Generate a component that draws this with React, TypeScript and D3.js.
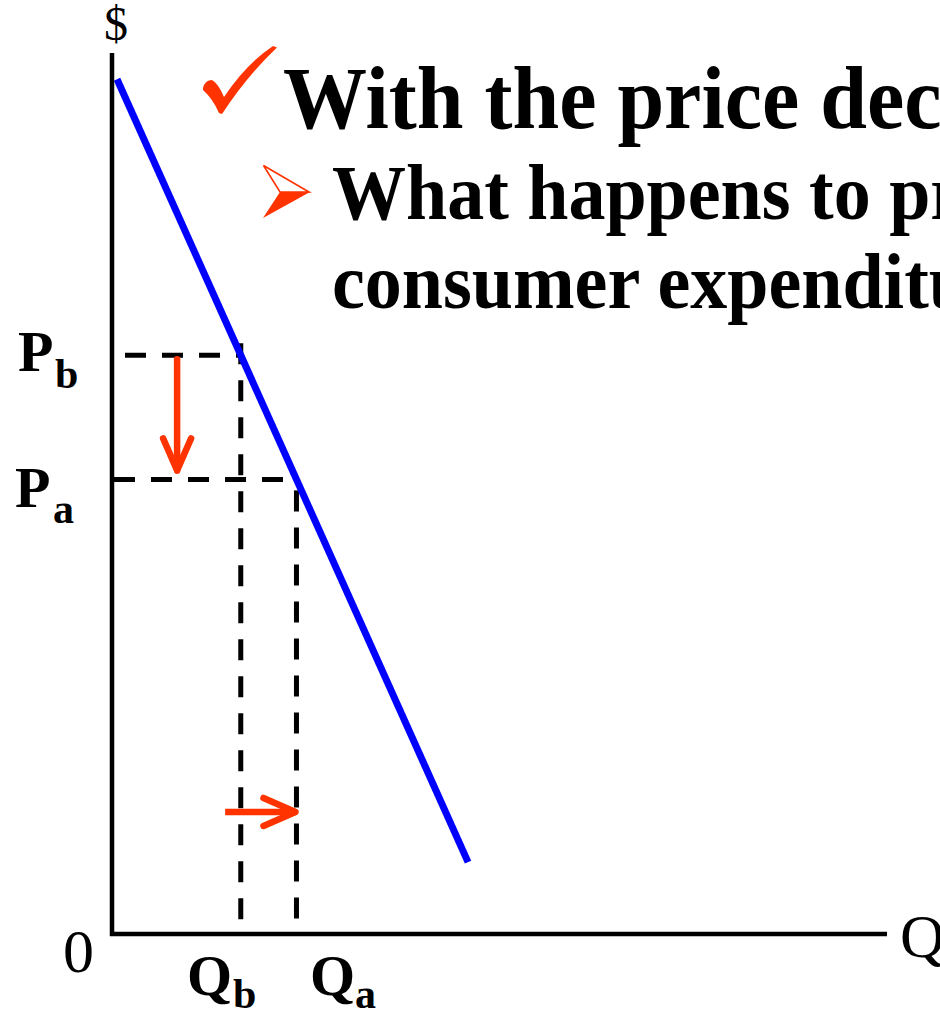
import React from "react";
import * as d3 from "d3";

// Demand curve: P = intercept - slope * Q (arbitrary units)
const demandIntercept = 9.83;
const demandSlope = 1.962;
const demandQ = [0.065, 4.594];

// Price levels before (b) and after (a) the decrease
const priceLabels = ["b", "a"];
const priceValues = [6.57, 5.16];

// Axis domains
const qDomain = [0, 10];
const pDomain = [0, 10];

// Headline text
const headline = "With the price decrease,";
const question = ["What happens to price elasticity and", "consumer expenditure?"];

const W = 940;
const H = 1018;
const RED = "#FF3300";
const BLUE = "#0000FF";
const SERIF = "'Liberation Serif', 'Times New Roman', serif";

export default function App() {
  const x = d3.scaleLinear().domain(qDomain).range([112, 887]);
  const y = d3.scaleLinear().domain(pDomain).range([934, 53]);

  const demand = (q: number) => demandIntercept - demandSlope * q;
  const qAt = (p: number) => (demandIntercept - p) / demandSlope;

  const line = d3
    .line<number>()
    .x((q) => x(q))
    .y((q) => y(demand(q)));

  const [pb, pa] = priceValues;
  const qb = qAt(pb);
  const qa = qAt(pa);

  const dash = "21 16";

  // down arrow between the two price levels
  const arrowDownX = x(0.84);
  const dTop = y(pb) + 4;
  const dBot = y(pa) - 9;
  // right arrow between the two quantities
  const arrowRightY = y(1.385);
  const rLeft = x(1.46);
  const rRight = x(qa) - 1;

  const labelText = (
    main: string,
    sub: string,
    mx: number,
    my: number,
    sx: number,
    sy: number,
    key: string
  ) => (
    <g key={key} fontFamily={SERIF} fontWeight="bold">
      <text x={mx} y={my} fontSize={58}>
        {main}
      </text>
      <text x={sx} y={sy} fontSize={42}>
        {sub}
      </text>
    </g>
  );

  return (
    <svg
      width={W}
      height={H}
      viewBox={`0 0 ${W} ${H}`}
      style={{ position: "absolute", left: 0, top: 0, background: "#fff" }}
    >
      <rect width={W} height={H} fill="#fff" />

      {/* headline with check mark */}
      <path
        d="M203,88 Q205,80 212,80 Q218,83 224,97 Q246,64 273,46 L277,47.5 Q247,76 222,114 L219,113 Q213,99 203,90 Z"
        fill={RED}
      />
      <text
        transform="translate(283,128) scale(1,1.07)"
        fontFamily={SERIF}
        fontWeight="bold"
        fontSize={84}
      >
        {headline}
      </text>

      {/* sub bullet */}
      <path d="M263,218 L280,192 L310,192 Z" fill={RED} />
      <path
        d="M263.5,165.5 L309,192 L280,192 Z"
        fill="#fff"
        stroke={RED}
        strokeWidth={1.6}
        strokeLinejoin="miter"
      />
      {question.map((t, i) => (
        <text
          key={i}
          transform={`translate(332,${219 + i * 89}) scale(1,1.06)`}
          fontFamily={SERIF}
          fontWeight="bold"
          fontSize={74}
        >
          {t}
        </text>
      ))}

      {/* dashed guides */}
      <g stroke="#000" strokeWidth={5} fill="none" strokeDasharray={dash}>
        <line x1={125} x2={x(qb)} y1={y(pb)} y2={y(pb)} />
        <line x1={x(0) + 2} x2={x(qa)} y1={y(pa)} y2={y(pa)} />
        <line x1={x(qb)} x2={x(qb)} y1={y(pb) - 12} y2={y(0)} />
        <line
          x1={x(qa)}
          x2={x(qa)}
          y1={y(pa)}
          y2={y(0)}
          strokeDashoffset={-11}
        />
      </g>

      {/* demand curve */}
      <path d={line(demandQ) || ""} stroke={BLUE} strokeWidth={7} fill="none" />

      {/* axes */}
      <path
        d={`M${x(0)},${y(pDomain[1])} L${x(0)},${y(0)} L${x(qDomain[1])},${y(0)}`}
        stroke="#000"
        strokeWidth={4.5}
        fill="none"
      />

      {/* movement arrows */}
      <g stroke={RED} strokeWidth={6.5} fill="none" strokeLinecap="round" strokeLinejoin="round">
        <line x1={arrowDownX} x2={arrowDownX} y1={dTop} y2={dBot} />
        <polyline points={`${arrowDownX - 14},${dBot - 32} ${arrowDownX},${dBot} ${arrowDownX + 14},${dBot - 32}`} />
        <line x1={rLeft} x2={rRight} y1={arrowRightY} y2={arrowRightY} strokeLinecap="butt" />
        <polyline points={`${rRight - 32},${arrowRightY - 14} ${rRight},${arrowRightY} ${rRight - 32},${arrowRightY + 14}`} />
      </g>

      {/* axis labels */}
      <g fontFamily={SERIF}>
        <text x={x(0) + 4} y={40} fontSize={48} textAnchor="middle">
          $
        </text>
        <text x={63} y={972} fontSize={62}>
          0
        </text>
        <text x={900} y={957} fontSize={62}>
          Q
        </text>
      </g>
      {labelText("P", priceLabels[0], 18, y(pb) + 16, 55, y(pb) + 33, "pb")}
      {labelText("P", priceLabels[1], 15, y(pa) + 28, 53, y(pa) + 44, "pa")}
      {labelText("Q", "b", 187, 995, 233, 1008, "qb")}
      {labelText("Q", "a", 310, 995, 355, 1008, "qa")}
    </svg>
  );
}
